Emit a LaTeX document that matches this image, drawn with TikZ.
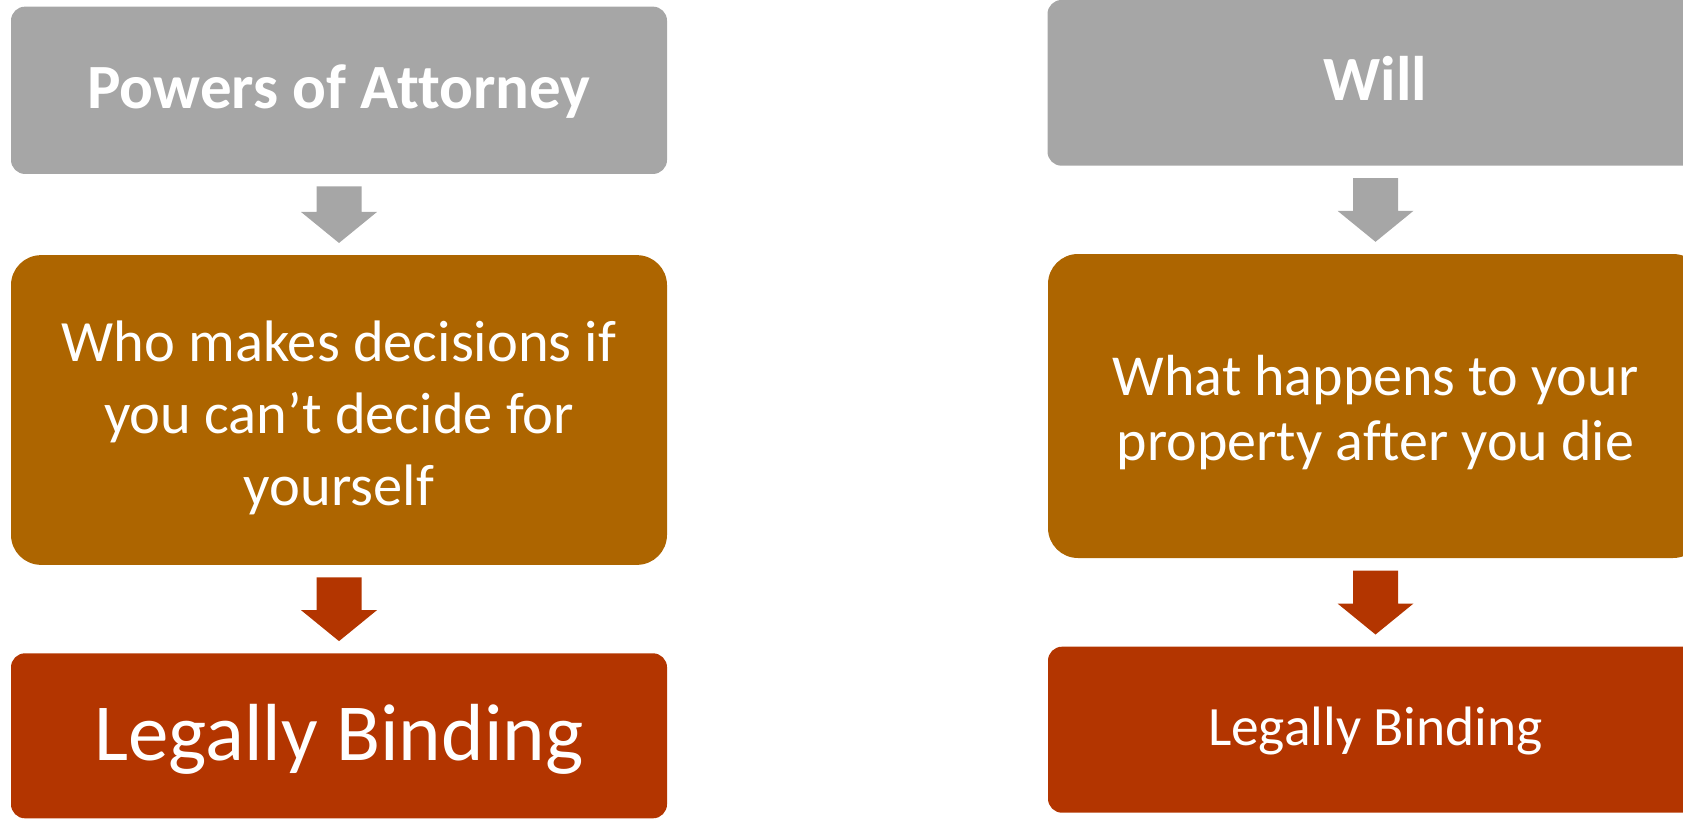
\documentclass[tikz,border=0pt]{standalone}
\usepackage{fontspec}
\setmainfont{Carlito}[Ligatures=NoCommon]
\usetikzlibrary{calc}

\definecolor{boxgray}{RGB}{166,166,166}
\definecolor{boxamber}{RGB}{173,101,0}
\definecolor{boxrust}{RGB}{179,53,0}

% fat down arrow from the bottom of one box to the top of the next
\newcommand{\downblock}[3]{%
  \fill[#3] ($(#1.south)+(-22.5,12.3)$) -- ($(#1.south)+(22.5,12.3)$)
    -- ($(#2.north)+(22.5,-43)$) -- ($(#2.north)+(38,-43)$)
    -- ($(#2.north)+(0,-12)$) -- ($(#2.north)+(-38,-43)$)
    -- ($(#2.north)+(-22.5,-43)$) -- cycle;}

\begin{document}
\begin{tikzpicture}[x=1pt, y=-1pt,
  box/.style={rectangle, rounded corners=14pt, minimum width=656pt,
    inner sep=0pt, text=white, align=center},
  head/.style={box, fill=boxgray, font=\fontsize{63}{76}\selectfont\bfseries},
  what/.style={box, fill=boxamber, rounded corners=30pt},
  bind/.style={box, fill=boxrust},
]
\useasboundingbox (0,0) rectangle (1683,819);

% left column
\node[head, minimum height=167.3pt, text height=40pt, text depth=4pt]
  (poa) at (339,90.3) {Powers of Attorney};
\node[what, minimum height=309.7pt, text height=203pt, text depth=12pt,
  font=\fontsize{58.5}{72}\selectfont]
  (poaq) at (339,410) {Who makes decisions if\\you can’t decide for\\yourself};
\node[bind, minimum height=165pt, text height=52pt, text depth=3.4pt,
  font=\fontsize{81}{98}\selectfont]
  (poab) at (339,735.8) {Legally Binding};

% right column
\node[head, minimum height=165.7pt, text height=40pt, text depth=4.4pt]
  (will) at (1375.5,82.85) {Will};
\node[what, minimum width=655pt, minimum height=304pt, text height=121pt,
  text depth=12pt, font=\fontsize{58}{65}\selectfont]
  (willq) at (1375.5,406) {What happens to your\\property after you die};
\node[bind, minimum width=655pt, minimum height=166pt, text height=36pt,
  text depth=4pt, font=\fontsize{55.5}{67}\selectfont]
  (willb) at (1375.5,729.7) {Legally Binding};

\downblock{poa}{poaq}{boxgray}
\downblock{poaq}{poab}{boxrust}
\downblock{will}{willq}{boxgray}
\downblock{willq}{willb}{boxrust}
\end{tikzpicture}
\end{document}
